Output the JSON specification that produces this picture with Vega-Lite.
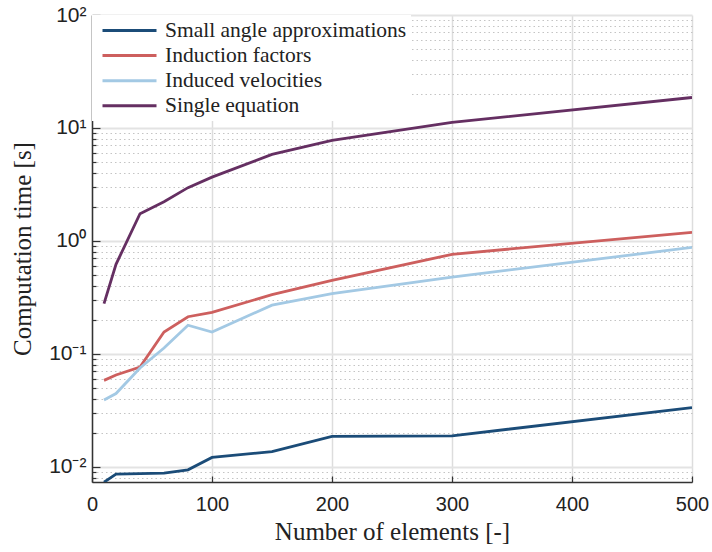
{
  "$schema": "https://vega.github.io/schema/vega-lite/v6.json",
  "width": 600,
  "height": 467,
  "autosize": "none",
  "padding": {"left": 92, "top": 15, "right": 20, "bottom": 70},
  "background": "white",
  "config": {
    "view": {"stroke": null},
    "axis": {"domainColor": "#333333", "domainWidth": 1.5, "tickColor": "#333333", "tickWidth": 1.2}
  },
  "data": {
    "values": [
      {"n": 10, "t": 0.0073, "method": "Small angle approximations"},
      {"n": 20, "t": 0.0086, "method": "Small angle approximations"},
      {"n": 40, "t": 0.0087, "method": "Small angle approximations"},
      {"n": 60, "t": 0.0088, "method": "Small angle approximations"},
      {"n": 80, "t": 0.0094, "method": "Small angle approximations"},
      {"n": 100, "t": 0.0121, "method": "Small angle approximations"},
      {"n": 150, "t": 0.0136, "method": "Small angle approximations"},
      {"n": 200, "t": 0.0186, "method": "Small angle approximations"},
      {"n": 300, "t": 0.0188, "method": "Small angle approximations"},
      {"n": 500, "t": 0.0334, "method": "Small angle approximations"},

      {"n": 10, "t": 0.0582, "method": "Induction factors"},
      {"n": 20, "t": 0.065, "method": "Induction factors"},
      {"n": 40, "t": 0.0764, "method": "Induction factors"},
      {"n": 60, "t": 0.156, "method": "Induction factors"},
      {"n": 80, "t": 0.213, "method": "Induction factors"},
      {"n": 100, "t": 0.233, "method": "Induction factors"},
      {"n": 150, "t": 0.334, "method": "Induction factors"},
      {"n": 200, "t": 0.447, "method": "Induction factors"},
      {"n": 300, "t": 0.76, "method": "Induction factors"},
      {"n": 500, "t": 1.19, "method": "Induction factors"},

      {"n": 10, "t": 0.039, "method": "Induced velocities"},
      {"n": 20, "t": 0.0445, "method": "Induced velocities"},
      {"n": 40, "t": 0.075, "method": "Induced velocities"},
      {"n": 60, "t": 0.1125, "method": "Induced velocities"},
      {"n": 80, "t": 0.179, "method": "Induced velocities"},
      {"n": 100, "t": 0.156, "method": "Induced velocities"},
      {"n": 150, "t": 0.27, "method": "Induced velocities"},
      {"n": 200, "t": 0.341, "method": "Induced velocities"},
      {"n": 300, "t": 0.478, "method": "Induced velocities"},
      {"n": 500, "t": 0.875, "method": "Induced velocities"},

      {"n": 10, "t": 0.278, "method": "Single equation"},
      {"n": 20, "t": 0.62, "method": "Single equation"},
      {"n": 40, "t": 1.74, "method": "Single equation"},
      {"n": 60, "t": 2.22, "method": "Single equation"},
      {"n": 80, "t": 2.96, "method": "Single equation"},
      {"n": 100, "t": 3.67, "method": "Single equation"},
      {"n": 150, "t": 5.83, "method": "Single equation"},
      {"n": 200, "t": 7.75, "method": "Single equation"},
      {"n": 300, "t": 11.2, "method": "Single equation"},
      {"n": 500, "t": 18.6, "method": "Single equation"}
    ]
  },
  "mark": {"type": "line", "strokeWidth": 2.8, "clip": true},
  "encoding": {
    "x": {
      "field": "n",
      "type": "quantitative",
      "scale": {"domain": [0, 500], "nice": false},
      "axis": {
        "title": "Number of elements [-]",
        "titleFont": "Liberation Serif, DejaVu Serif, serif",
        "titleFontSize": 25,
        "titleFontWeight": "normal",
        "titleColor": "#222222",
        "titlePadding": 5,
        "values": [0, 100, 200, 300, 400, 500],
        "labelFont": "Liberation Sans, Arial, sans-serif",
        "labelFontSize": 20,
        "labelColor": "#222222",
        "labelPadding": 18,
        "labelFlush": false,
        "tickSize": -6,
        "grid": true,
        "gridColor": "#dddddd",
        "gridWidth": 1.5
      }
    },
    "y": {
      "field": "t",
      "type": "quantitative",
      "scale": {"type": "log", "domain": [0.00733, 100], "nice": false},
      "axis": {
        "title": "Computation time [s]",
        "titleFont": "Liberation Serif, DejaVu Serif, serif",
        "titleFontSize": 25,
        "titleFontWeight": "normal",
        "titleColor": "#222222",
        "titlePadding": 13,
        "values": [0.008, 0.009, 0.01, 0.02, 0.03, 0.04, 0.05, 0.06, 0.07, 0.08, 0.09, 0.1, 0.2, 0.3, 0.4, 0.5, 0.6, 0.7, 0.8, 0.9, 1, 2, 3, 4, 5, 6, 7, 8, 9, 10, 20, 30, 40, 50, 60, 70, 80, 90, 100],
        "labelExpr": "datum.value == 100 ? '10²' : datum.value == 10 ? '10¹' : datum.value == 1 ? '10⁰' : datum.value == 0.1 ? '10⁻¹' : datum.value == 0.01 ? '10⁻²' : ''",
        "labelFont": "Liberation Sans, Arial, sans-serif",
        "labelFontSize": 21,
        "labelColor": "#222222",
        "labelPadding": 14,
        "labelFlush": false,
        "tickSize": {"condition": {"test": "indexof([0.01, 0.1, 1, 10, 100], datum.value) >= 0", "value": -8}, "value": -4},
        "grid": true,
        "gridColor": {"condition": {"test": "indexof([0.01, 0.1, 1, 10, 100], datum.value) >= 0", "value": "#e3e3e3"}, "value": "#c4c4c4"},
        "gridWidth": {"condition": {"test": "indexof([0.01, 0.1, 1, 10, 100], datum.value) >= 0", "value": 2}, "value": 1},
        "gridDash": {"condition": {"test": "indexof([0.01, 0.1, 1, 10, 100], datum.value) >= 0", "value": []}, "value": [1.5, 3]}
      }
    },
    "color": {
      "field": "method",
      "type": "nominal",
      "scale": {
        "domain": ["Small angle approximations", "Induction factors", "Induced velocities", "Single equation"],
        "range": ["#1b4c78", "#cd5f5e", "#a3c9e4", "#652f62"]
      },
      "legend": {
        "title": null,
        "orient": "top-left",
        "offset": 0,
        "fillColor": "white",
        "padding": 4,
        "labelFont": "Liberation Serif, DejaVu Serif, serif",
        "labelFontSize": 21.5,
        "labelColor": "#222222",
        "labelLimit": 400,
        "symbolType": "M-2.7,0H2.7",
        "symbolSize": 400,
        "symbolStrokeWidth": 3,
        "symbolOffset": 22,
        "labelOffset": 24,
        "rowPadding": 3.1
      }
    }
  }
}
